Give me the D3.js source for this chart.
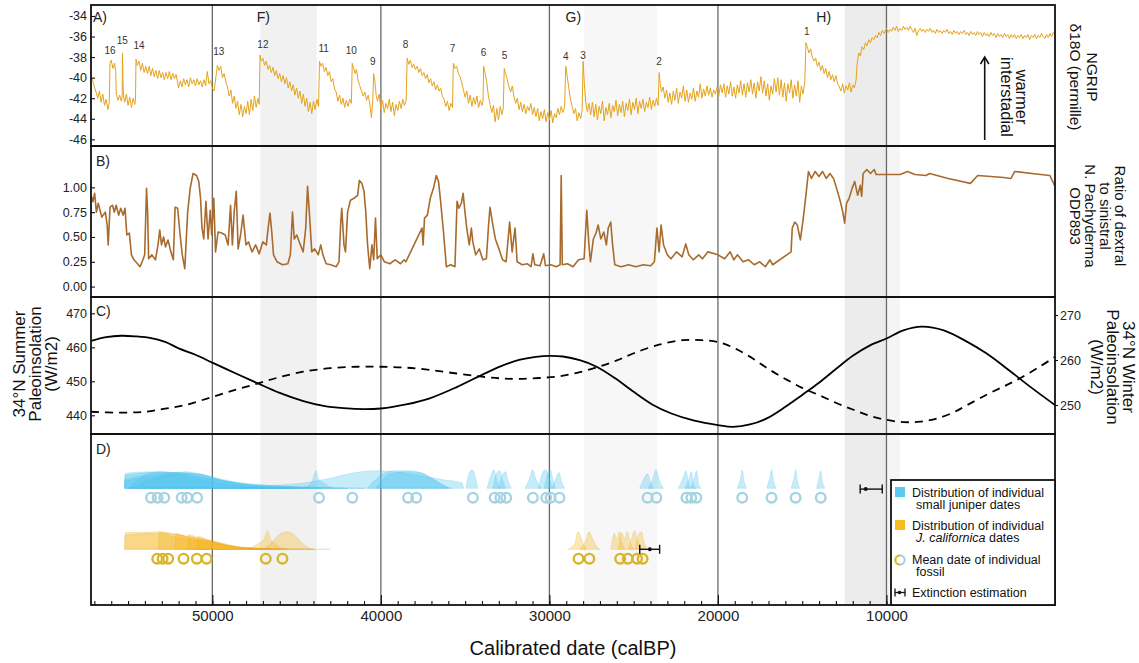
<!DOCTYPE html>
<html>
<head>
<meta charset="utf-8">
<script src="https://cdn.jsdelivr.net/npm/d3@7/dist/d3.min.js"></script>
<style>
html,body{margin:0;padding:0;background:#fff;}
svg{display:block;}
text{font-family:"Liberation Sans",Arial,Helvetica,sans-serif;}
</style>
</head>
<body>
<svg id="chart" width="1139" height="663"></svg>
<script>
// ================= DATA =================
// NGRIP d18O (permille) vs calibrated age (calBP)
const ngrip = [
[57200,-39.8],[57100,-40.3],[57000,-40.9],[56900,-41.4],[56800,-42.0],[56700,-41.3],[56600,-42.4],[56500,-41.6],[56400,-42.7],[56300,-42.1],[56200,-43.1],[56120,-42.5],
[56070,-38.6],[56000,-38.3],[55900,-39.1],[55800,-38.6],[55730,-39.4],[55700,-41.6],[55600,-42.2],[55500,-41.7],[55400,-42.3],[55350,-41.8],
[55330,-37.6],[55300,-40.5],[55260,-41.9],[55200,-42.4],[55100,-41.6],[55000,-42.7],[54900,-41.9],[54800,-42.9],[54700,-42.0],[54600,-42.6],[54560,-42.1],
[54530,-38.2],[54450,-38.8],[54350,-38.4],[54250,-39.3],[54150,-38.6],[54050,-39.5],[53950,-38.9],[53850,-39.6],[53750,-38.9],[53650,-39.8],[53550,-39.1],[53450,-39.9],[53350,-39.3],[53250,-40.1],[53150,-39.3],[53050,-40.0],[52950,-39.5],[52850,-40.2],[52750,-39.5],[52650,-40.1],[52550,-39.4],[52450,-40.2],[52350,-39.6],[52250,-40.1],[52150,-39.7],[52080,-40.3],
[52000,-41.0],[51900,-40.3],[51800,-40.9],[51700,-40.1],[51600,-40.7],[51500,-40.2],[51400,-40.9],[51300,-40.0],[51200,-40.6],[51100,-40.2],[51000,-40.8],[50900,-40.1],[50800,-40.7],[50700,-40.3],[50600,-40.9],[50500,-40.2],[50400,-40.8],[50300,-39.4],[50200,-40.6],[50100,-40.3],[50000,-41.0],[49900,-41.3],
[49800,-40.1],[49700,-38.8],[49600,-39.3],[49500,-38.9],[49400,-40.0],[49300,-39.6],[49200,-40.4],[49100,-40.9],[49000,-41.8],[48900,-41.2],[48800,-42.5],[48700,-41.8],[48600,-43.0],[48500,-42.3],[48400,-43.6],[48300,-42.6],[48200,-43.8],[48100,-42.8],[48000,-43.5],[47900,-42.3],[47800,-43.6],[47700,-42.1],[47600,-43.2],[47500,-41.8],[47400,-42.9],[47300,-42.0],[47220,-42.6],
[47170,-37.8],[47100,-38.4],[47000,-38.1],[46900,-38.8],[46800,-38.4],[46700,-39.2],[46600,-38.8],[46500,-39.5],[46400,-39.0],[46300,-39.8],[46200,-39.3],[46100,-40.1],[46000,-39.6],[45900,-40.4],[45800,-39.8],[45700,-40.6],[45600,-40.0],[45500,-41.0],[45400,-40.4],[45300,-41.3],[45200,-40.7],[45100,-41.7],[45000,-41.0],[44900,-42.0],[44800,-41.3],[44700,-42.5],[44600,-41.6],[44500,-42.8],[44400,-42.0],[44300,-43.3],[44200,-42.4],[44100,-43.5],[44000,-42.3],[43900,-43.1],[43800,-42.1],[43700,-42.8],
[43640,-38.4],[43550,-38.9],[43450,-38.6],[43350,-39.4],[43250,-39.0],[43150,-39.8],[43050,-39.4],[42950,-40.4],[42850,-40.1],[42750,-41.1],[42650,-41.4],[42550,-42.3],[42450,-41.7],[42350,-42.6],[42250,-42.0],[42150,-42.9],[42050,-42.2],[41950,-42.8],[41850,-42.1],[41750,-42.5],
[41700,-38.6],[41620,-39.1],[41530,-39.6],[41450,-39.2],[41350,-40.3],[41250,-40.8],[41150,-41.3],[41050,-41.8],[40950,-41.4],[40850,-42.2],[40750,-41.7],[40650,-42.6],[40560,-43.9],[40480,-42.2],
[40430,-39.6],[40360,-40.3],[40280,-41.7],[40200,-42.3],[40100,-41.6],[40000,-43.1],[39900,-42.2],[39800,-43.4],[39700,-42.5],[39600,-43.0],[39500,-42.1],[39400,-43.3],[39300,-42.4],[39200,-43.7],[39100,-42.6],[39000,-43.2],[38900,-42.3],[38800,-43.0],[38700,-42.1],[38600,-42.7],[38500,-42.2],
[38440,-38.1],[38350,-38.7],[38250,-38.3],[38150,-39.0],[38050,-38.7],[37950,-39.2],[37850,-38.9],[37750,-39.5],[37650,-39.1],[37550,-39.8],[37450,-39.5],[37350,-40.1],[37250,-39.7],[37150,-40.5],[37050,-40.1],[36950,-40.8],[36850,-40.4],[36750,-41.2],[36650,-40.7],[36550,-41.3],[36450,-41.0],[36350,-41.8],[36250,-42.1],[36150,-42.8],[36050,-42.3],[35950,-43.2],[35850,-42.5],[35750,-42.9],
[35700,-38.6],[35600,-39.1],[35500,-38.9],[35400,-39.6],[35300,-39.9],[35200,-40.5],[35100,-41.2],[35000,-41.9],[34900,-41.3],[34800,-42.5],[34700,-41.7],[34600,-42.8],[34500,-41.9],[34400,-42.6],[34300,-41.8],[34200,-42.9],[34100,-42.2],[34000,-42.7],[33940,-42.3],
[33900,-38.9],[33820,-39.5],[33720,-40.4],[33620,-41.8],[33520,-42.6],[33420,-43.4],[33320,-42.7],[33220,-44.3],[33120,-43.0],[33020,-44.1],[32920,-42.8],[32820,-43.6],[32740,-43.0],
[32680,-39.1],[32600,-39.6],[32500,-40.2],[32400,-40.9],[32300,-41.4],[32200,-40.8],[32100,-41.9],[32000,-42.5],[31900,-42.0],[31800,-43.1],[31700,-42.4],[31600,-43.3],[31500,-42.6],[31400,-43.5],[31300,-42.8],[31200,-43.2],[31100,-42.5],[31000,-43.6],[30900,-42.9],[30800,-43.8],[30700,-43.0],[30600,-44.2],[30500,-43.3],[30400,-44.0],[30300,-43.1],[30200,-44.3],[30100,-43.4],[30000,-44.1],[29900,-43.2],[29800,-44.4],[29700,-43.5],[29600,-43.9],[29500,-43.0],[29400,-43.6],[29300,-42.8],[29200,-43.4],[29100,-42.9],
[29030,-38.9],[28950,-39.8],[28850,-41.0],[28750,-42.1],[28650,-42.8],[28550,-43.5],[28450,-43.0],[28350,-44.2],[28250,-43.4],[28150,-44.0],[28060,-43.2],
[28000,-38.4],[27930,-40.5],[27850,-42.3],[27750,-43.3],[27650,-42.5],[27550,-43.6],[27450,-42.4],[27350,-43.8],[27250,-42.6],[27150,-44.1],[27050,-42.8],[26950,-43.5],[26850,-42.3],[26750,-44.2],[26650,-42.9],[26550,-43.6],[26450,-42.5],[26350,-43.9],[26250,-42.7],[26150,-43.3],[26050,-42.2],[25950,-43.7],[25850,-42.6],[25750,-43.4],[25650,-42.3],[25550,-43.8],[25450,-42.5],[25350,-43.2],[25250,-42.1],[25150,-43.6],[25050,-42.4],[24950,-43.1],[24850,-42.0],[24750,-43.5],[24650,-42.3],[24550,-43.0],[24450,-42.1],[24350,-43.3],[24250,-42.4],[24150,-42.9],[24050,-41.9],[23950,-43.1],[23850,-42.2],[23750,-42.8],[23650,-42.0],[23550,-42.7],
[23490,-39.5],[23420,-40.6],[23350,-41.4],[23250,-40.9],[23150,-42.0],[23050,-41.2],[22950,-42.4],[22850,-41.5],[22750,-42.6],[22650,-41.3],[22550,-42.2],[22450,-41.0],[22350,-42.5],[22250,-41.4],[22150,-42.0],[22050,-40.8],[21950,-42.3],[21850,-41.2],[21750,-42.4],[21650,-41.5],[21550,-42.1],[21450,-41.0],[21350,-42.3],[21250,-41.3],[21150,-41.9],[21050,-40.6],[20950,-42.0],[20850,-41.1],[20750,-41.8],[20650,-40.8],[20550,-41.7],[20450,-41.0],[20350,-41.9],[20250,-41.2],[20150,-41.6],[20050,-40.9],
[19950,-41.8],[19850,-40.7],[19750,-41.5],[19650,-40.6],[19550,-41.9],[19450,-40.8],[19350,-41.6],[19250,-40.4],[19150,-41.8],[19050,-40.9],[18950,-42.0],[18850,-40.7],[18750,-41.5],[18650,-40.3],[18550,-41.7],[18450,-40.6],[18350,-41.9],[18250,-40.5],[18150,-41.4],[18050,-40.2],[17950,-41.6],[17850,-40.5],[17750,-42.0],[17650,-40.4],[17550,-41.3],[17450,-39.9],[17350,-41.5],[17250,-40.3],[17150,-41.8],[17050,-40.6],[16950,-42.2],[16850,-40.8],[16750,-41.6],[16650,-40.1],[16550,-41.4],[16450,-40.0],[16350,-41.7],[16250,-40.2],[16150,-41.9],[16050,-40.5],[15950,-42.3],[15850,-40.6],[15750,-41.5],[15650,-40.2],[15550,-42.0],[15450,-40.7],[15350,-41.8],[15250,-40.3],[15150,-42.4],[15050,-40.8],[14950,-41.6],[14850,-40.5],
[14780,-36.6],[14700,-37.0],[14600,-37.6],[14500,-37.2],[14400,-38.0],[14300,-38.4],[14200,-38.1],[14100,-38.9],[14000,-38.5],[13900,-39.3],[13800,-38.8],[13700,-39.6],[13600,-39.1],[13500,-40.0],[13400,-39.4],[13300,-40.2],[13200,-39.7],[13100,-40.4],[13000,-39.8],[12900,-40.6],[12800,-40.9],[12700,-41.3],[12600,-40.6],[12500,-41.5],[12400,-40.8],[12300,-41.2],[12200,-40.5],[12100,-41.4],[12000,-40.7],[11900,-41.0],[11800,-40.2],
[11750,-38.8],[11650,-37.6],[11550,-37.9],[11450,-37.0],[11350,-37.3],[11250,-36.6],[11150,-36.9],[11050,-36.3],[10950,-36.6],[10850,-36.1],[10750,-36.3],[10650,-35.9],[10550,-36.1],[10450,-35.6],[10350,-35.9],[10250,-35.4],[10150,-35.7],
[10000,-35.2],[9900,-35.6],[9800,-35.3],[9700,-35.5],[9600,-35.1],[9500,-35.4],[9400,-35.0],[9300,-35.5],[9200,-35.2],[9100,-35.4],[9000,-35.0],[8900,-35.3],[8800,-35.1],[8700,-35.4],[8600,-35.0],[8500,-35.3],[8400,-35.6],[8300,-35.2],[8200,-35.9],[8100,-35.4],[8000,-35.2],[7900,-35.5],[7800,-35.3],[7700,-35.6],[7600,-35.3],[7500,-35.5],[7400,-35.2],[7300,-35.6],[7200,-35.4],[7100,-35.7],[7000,-35.3],[6900,-35.6],[6800,-35.4],[6700,-35.7],[6600,-35.4],[6500,-35.6],[6400,-35.3],[6300,-35.7],[6200,-35.5],[6100,-35.8],[6000,-35.4],[5900,-35.7],[5800,-35.5],[5700,-35.8],[5600,-35.5],[5500,-35.7],[5400,-35.4],[5300,-35.8],[5200,-35.6],[5100,-35.9],[5000,-35.5],[4900,-35.8],[4800,-35.6],[4700,-35.9],[4600,-35.5],[4500,-35.8],[4400,-35.6],[4300,-36.0],[4200,-35.6],[4100,-35.9],[4000,-35.7],[3900,-36.0],[3800,-35.6],[3700,-35.9],[3600,-35.7],[3500,-36.1],[3400,-35.7],[3300,-36.0],[3200,-35.8],[3100,-36.1],[3000,-35.7],[2900,-36.0],[2800,-35.8],[2700,-36.2],[2600,-35.8],[2500,-36.1],[2400,-35.8],[2300,-36.2],[2200,-35.9],[2100,-36.1],[2000,-35.8],[1900,-36.2],[1800,-35.9],[1700,-36.1],[1600,-35.8],[1500,-36.3],[1400,-35.9],[1300,-36.1],[1200,-35.8],[1100,-36.2],[1000,-35.9],[900,-36.1],[800,-35.7],[700,-36.0],[600,-36.2],[500,-35.8],[400,-36.1],[300,-35.7],[200,-36.0],[100,-35.6],[0,-35.8]
];

// Ratio of dextral to sinistral N. pachyderma, ODP893
const ratioODP893 = [
[57197,0.92],[57090,0.855],[56985,0.94],[56880,0.75],[56770,0.84],[56560,0.70],[56350,0.75],[56240,0.62],[56180,0.42],[56070,0.80],[55920,0.82],[55820,0.75],[55710,0.82],[55560,0.72],[55435,0.79],[55290,0.72],[55180,0.79],[55075,0.52],[54925,0.54],[54800,0.32],[54650,0.27],[54440,0.23],[54290,0.20],[54120,0.27],[54015,0.32],[53905,0.99],[53840,0.75],[53780,0.28],[53590,0.32],[53375,0.27],[53225,0.42],[53120,0.57],[53015,0.42],[52890,0.50],[52780,0.40],[52630,0.47],[52460,0.35],[52315,0.27],[52210,0.80],[52060,0.79],[51930,0.55],[51785,0.32],[51635,0.18],[51465,0.75],[51315,0.99],[51145,1.14],[50935,1.12],[50805,1.06],[50700,0.89],[50615,0.59],[50510,0.48],[50380,0.86],[50255,0.48],[50125,0.77],[50040,0.52],[49915,0.89],[49810,0.35],[49660,0.55],[49450,0.54],[49235,0.52],[49065,0.42],[48920,0.82],[48810,0.42],[48705,0.75],[48580,0.96],[48470,0.38],[48325,0.52],[48175,0.72],[48005,0.42],[47855,0.45],[47645,0.35],[47430,0.42],[47220,0.33],[47005,0.45],[46795,0.42],[46690,0.59],[46580,0.74],[46475,0.55],[46370,0.32],[46160,0.25],[45840,0.22],[45520,0.23],[45370,0.32],[45245,0.75],[45140,0.48],[44990,0.52],[44775,0.42],[44610,0.35],[44460,0.59],[44350,1.01],[44245,0.75],[44100,0.35],[43930,0.38],[43715,0.32],[43570,0.42],[43440,0.32],[43250,0.23],[42975,0.22],[42655,0.20],[42485,0.25],[42380,0.65],[42320,0.79],[42190,0.42],[42100,0.35],[41975,0.75],[41805,0.87],[41595,0.89],[41380,0.92],[41275,1.07],[41125,1.04],[41000,0.96],[40895,0.75],[40790,0.42],[40660,0.18],[40530,0.42],[40425,0.27],[40320,0.69],[40215,0.28],[40000,0.32],[39790,0.25],[39470,0.23],[39150,0.27],[38835,0.23],[38620,0.27],[38515,0.25],[37560,0.59],[37495,0.42],[37410,0.69],[37240,0.72],[37070,0.89],[36880,0.99],[36710,1.12],[36580,1.06],[36455,0.86],[36285,0.55],[36115,0.20],[35860,0.22],[35605,0.20],[35480,0.86],[35370,0.79],[35225,0.84],[35120,0.94],[35010,0.75],[34905,0.59],[34755,0.42],[34630,0.59],[34545,0.45],[34375,0.32],[34160,0.38],[33950,0.27],[33740,0.28],[33610,0.62],[33525,0.80],[33355,0.62],[33205,0.48],[32995,0.38],[32780,0.27],[32570,0.25],[32360,0.65],[32210,0.35],[32040,0.59],[31915,0.25],[31615,0.22],[31300,0.23],[31090,0.20],[30980,0.33],[30870,0.22],[30555,0.21],[30340,0.33],[30235,0.21],[29915,0.22],[29600,0.20],
[29365,0.22],[29300,1.12],[29235,0.22],[28925,0.23],[28600,0.20],[28270,0.27],[27940,0.28],[27785,0.77],[27655,0.42],[27565,0.25],[27390,0.48],[27235,0.54],[27105,0.62],[26950,0.48],[26775,0.55],[26620,0.42],[26510,0.59],[26360,0.65],[26250,0.42],[26120,0.22],[25745,0.20],[25305,0.22],[24870,0.20],[24430,0.22],[23990,0.21],[23770,0.25],[23620,0.59],[23490,0.35],[23375,0.62],[23225,0.42],[23005,0.32],[22785,0.28],[22455,0.35],[22125,0.30],[21910,0.43],[21730,0.32],[21470,0.27],[21140,0.32],[20920,0.28],[20590,0.35],[20000,0.32],[19605,0.28],[19275,0.35],[19055,0.27],[18840,0.32],[18510,0.25],[18180,0.27],[17850,0.22],[17520,0.25],[17190,0.20],[16910,0.27],[16755,0.22],[15660,0.35],[15590,0.59],[15440,0.65],[15290,0.62],[15110,0.47],[14935,0.69],[14780,0.92],[14630,1.16],[14450,1.09],[14230,1.16],[14010,1.11],[13795,1.16],[13575,1.09],[13355,1.14],[13140,1.09],[12960,0.99],[12740,0.86],[12590,0.75],[12480,0.64],[12370,0.84],[12215,0.89],[12040,0.99],[11885,1.06],[11710,0.92],[11555,1.02],[11470,0.91],[11385,1.14],[11165,1.18],[10945,1.14],[10725,1.18],[10615,1.13],[9190,1.13],[8750,1.16],[8310,1.13],[7655,1.12],[7435,1.14],[6340,1.09],[5020,1.04],[4585,1.12],[3050,1.10],[2610,1.09],[2390,1.16],[855,1.13],[305,1.12],[0,1.01]
];

// 34°N summer insolation (W/m2), left axis
const summerInsolation = [
[57200,461.9],[56300,463.0],[55400,463.4],[54500,463.2],[53700,462.8],[52800,461.6],[52000,459.7],[51000,457.8],[50000,455.5],[48600,452.3],[47300,449.4],[46000,446.6],[44600,444.2],[43400,442.8],[42200,442.1],[41000,441.8],[40000,442.0],[38500,443.2],[37100,445.0],[35500,448.3],[34000,451.9],[32900,454.4],[31800,456.3],[30800,457.2],[30000,457.5],[29200,457.3],[28200,456.2],[27200,454.3],[26100,450.9],[25000,446.9],[23900,443.2],[22800,440.6],[21400,438.4],[20000,437.1],[19100,436.6],[18100,437.3],[17100,439.1],[16000,442.5],[15000,446.0],[14000,449.6],[13000,453.6],[12000,457.5],[11000,460.5],[10000,462.6],[9000,465.0],[7900,466.1],[6600,465.0],[5200,461.6],[4100,458.3],[3000,454.3],[1500,448.5],[0,443.0]
];
// 34°N winter insolation (W/m2), right axis
const winterInsolation = [
[57200,248.5],[55500,248.3],[54000,248.5],[52800,249.2],[51600,250.0],[50000,251.8],[48600,253.4],[47300,254.8],[46000,256.2],[44600,257.4],[43000,258.2],[41400,258.5],[40000,258.5],[38500,258.3],[37100,257.8],[35500,257.0],[34000,256.3],[32800,255.9],[31800,255.8],[30600,256.0],[29400,256.4],[28200,257.3],[27000,258.6],[26000,259.9],[25000,261.5],[23500,263.4],[22100,264.4],[21000,264.4],[20000,264.0],[19000,262.6],[18000,260.5],[17000,258.0],[16000,255.8],[15000,253.8],[14000,252.2],[13000,250.5],[12000,249.0],[11000,247.6],[10000,246.7],[9000,246.2],[8000,246.3],[7000,247.0],[6000,248.4],[5200,250.0],[4000,252.4],[3000,254.2],[2100,255.9],[1000,258.3],[0,260.7]
];

// Small juniper fossils: mean dates and calibrated date distributions ([age, relative density])
const juniperMeans = [53640,53250,52850,51820,51490,50900,43670,41690,38390,37900,34540,33250,32910,32560,30980,30190,29930,29400,24180,23650,21870,21580,21280,18560,16820,15390,13900];
const juniperDists = [
[[55200,0],[55180,0.8],[54200,0.88],[53000,0.9],[51800,0.75],[50000,0.5],[48000,0.25],[46000,0.12],[43500,0.05],[41000,0]],
[[55200,0],[55180,0.7],[53500,0.85],[52000,0.85],[50500,0.6],[48500,0.3],[46500,0.15],[44000,0.05],[42000,0]],
[[55000,0],[54200,0.6],[53200,0.9],[52000,0.8],[50800,0.5],[49000,0.2],[46500,0.05],[45000,0]],
[[55200,0],[55180,0.5],[53000,0.8],[51800,0.85],[50500,0.7],[48800,0.3],[47000,0.1],[44500,0]],
[[54800,0],[53200,0.6],[51600,0.9],[50600,0.75],[49200,0.35],[47500,0.1],[45500,0]],
[[55200,0],[55180,0.4],[52500,0.7],[51000,0.8],[49500,0.5],[47800,0.2],[45800,0.08],[43500,0]],
[[44600,0],[44100,0.35],[43850,0.95],[43700,0.5],[43400,0.3],[43000,0.05],[42800,0]],
[[48500,0],[46500,0.15],[44500,0.3],[43000,0.55],[41500,0.85],[40200,0.95],[38800,0.85],[37500,0.65],[36200,0.45],[35200,0.3],[35100,0]],
[[40800,0],[40000,0.7],[39200,0.95],[38300,0.95],[37500,0.8],[36800,0.45],[36000,0]],
[[40300,0],[39500,0.75],[38600,0.9],[37700,0.85],[37000,0.55],[36300,0.15],[35800,0]],
[[34950,0],[34750,0.85],[34600,1.0],[34450,0.8],[34250,0]],
[[33700,0],[33450,0.75],[33300,1.0],[33150,0.55],[32950,0]],
[[33350,0],[33100,0.85],[32950,0.95],[32800,0.5],[32600,0]],
[[33000,0],[32750,0.8],[32600,0.9],[32450,0.4],[32250,0]],
[[31450,0],[31150,0.6],[31000,1.0],[30800,0.5],[30500,0]],
[[30650,0],[30400,0.85],[30250,1.0],[30050,0.7],[29850,0]],
[[30300,0],[30100,0.8],[29950,1.0],[29800,0.5],[29650,0]],
[[29850,0],[29600,0.55],[29420,0.85],[29280,0.35],[29100,0]],
[[24650,0],[24350,0.6],[24180,0.8],[24000,0.35],[23850,0]],
[[24150,0],[23850,0.55],[23680,1.0],[23480,0.45],[23250,0]],
[[22350,0],[22050,0.6],[21900,0.95],[21750,0.3],[21600,0]],
[[21950,0],[21700,0.55],[21580,0.9],[21450,0.2],[21300,0]],
[[21600,0],[21400,0.6],[21270,0.95],[21150,0.25],[21000,0]],
[[18850,0],[18650,0.6],[18560,1.0],[18450,0.4],[18300,0]],
[[17100,0],[16920,0.6],[16820,1.0],[16700,0.4],[16550,0]],
[[15650,0],[15480,0.6],[15390,1.0],[15280,0.4],[15150,0]],
[[14150,0],[14000,0.55],[13900,0.95],[13800,0.35],[13650,0]]
];

// J. californica fossils
const californicaMeans = [53270,52950,52620,51710,50920,50340,46830,45840,28270,27630,25800,25350,24800,24470];
const californicaDists = [
[[55200,0],[55180,0.9],[54000,0.92],[53200,0.95],[52000,0.8],[50800,0.6],[49500,0.35],[48300,0.12],[46500,0.04],[43000,0]],
[[55200,0],[55180,0.75],[53800,0.85],[52600,0.85],[51300,0.65],[50000,0.45],[48800,0.15],[46000,0.03],[44000,0]],
[[53200,0],[53150,0.95],[52400,0.7],[51200,0.5],[49800,0.3],[48200,0.08],[46000,0]],
[[52200,0],[52150,0.85],[51400,0.6],[50200,0.4],[48800,0.15],[47000,0]],
[[51450,0],[51400,0.8],[50700,0.55],[49600,0.3],[48400,0.1],[46500,0]],
[[50900,0],[50850,0.7],[50200,0.5],[49200,0.25],[48000,0.06],[45500,0]],
[[47900,0],[47300,0.3],[46900,0.6],[46720,1.0],[46550,0.55],[46200,0.25],[45700,0]],
[[46900,0],[46400,0.45],[45950,0.85],[45550,0.95],[45100,0.75],[44700,0.35],[44200,0.05],[43900,0]],
[[28900,0],[28500,0.3],[28300,0.95],[28150,0.7],[27950,0.2],[27800,0]],
[[28200,0],[27850,0.45],[27650,0.95],[27450,0.6],[27200,0.15],[27000,0]],
[[26350,0],[26150,0.85],[26000,0.55],[25850,0.95],[25700,0.35],[25500,0]],
[[25900,0],[25700,0.9],[25550,0.55],[25380,0.95],[25200,0.35],[25000,0]],
[[25300,0],[25100,0.65],[24950,1.0],[24800,0.6],[24650,0.2],[24450,0]],
[[24900,0],[24700,0.8],[24550,0.95],[24400,0.45],[24200,0]]
];

// Extinction estimations [older bound, estimate, younger bound]
const extinctionJuniper = [11560, 11230, 10250];
const extinctionCalifornica = [24640, 24040, 23460];

// Shaded intervals [from, to] (calBP)
const shadedPeriods = [[47150,43800],[27950,23600],[12480,10000],[10000,9190]];
const periodLabels = [["F)",47370],["G)",29040],["H)",14160]];

// Dansgaard-Oeschger interstadial numbers [label, age, d18O]
const doLabels = [["16",56070,-37.4],["15",55340,-36.4],["14",54350,-36.9],["13",49620,-37.5],["12",47000,-36.8],["11",43390,-37.2],["10",41750,-37.4],["9",40480,-38.4],["8",38530,-36.8],["7",35750,-37.2],["6",33910,-37.6],["5",32660,-37.8],["4",29030,-37.9],["3",28000,-37.8],["2",23490,-38.4],["1",14730,-35.5]];

// Tick values
const ageTicks = [50000,40000,30000,20000,10000];
const d18oTicks = [-34,-36,-38,-40,-42,-44,-46];
const ratioTicks = [0,0.25,0.5,0.75,1];
const summerTicks = [440,450,460,470];
const winterTicks = [250,260,270];

// ================= CHART =================
const svg = d3.select("#chart");
const L = 91, R = 1055;
const panels = {A:[5,146], B:[146,297], C:[297,434], D:[434,605]};
const font = '"Liberation Sans",Arial,sans-serif';

const x = d3.scaleLinear().domain([57200,0]).range([L,R]);
const yA = d3.scaleLinear().domain([-46.65,-32.93]).range([146,5]);
const yB = d3.scaleLinear().domain([-0.105,1.417]).range([297,146]);
const yCL = d3.scaleLinear().domain([434.5,474.8]).range([434,297]);
const yCR = d3.scaleLinear().domain([243.56,274.0]).range([434,297]);
const rowY = d3.scalePoint().domain(["juniper","californica"]).range([488.3,549.3]);
const hD = d3.scaleLinear().domain([0,1]).range([0,18.5]);

const defs = svg.append("defs");
Object.entries(panels).forEach(([k,[t,b]]) => {
  defs.append("clipPath").attr("id","clip"+k).append("rect")
    .attr("x",L).attr("y",t).attr("width",R-L).attr("height",b-t);
});

// shading
const shadeColors = ["#f1f1f1","#f7f7f7","#ececec","#f5f5f5"];
svg.append("g").selectAll("rect").data(shadedPeriods).join("rect")
  .attr("x",d=>x(d[0])).attr("width",d=>x(d[1])-x(d[0]))
  .attr("y",panels.A[0]).attr("height",panels.D[1]-panels.A[0])
  .attr("fill",(d,i)=>shadeColors[i]);

// gridlines
svg.append("g").selectAll("line").data(ageTicks).join("line")
  .attr("x1",d=>x(d)).attr("x2",d=>x(d))
  .attr("y1",panels.A[0]).attr("y2",panels.D[1])
  .attr("stroke","#6a6a6a").attr("stroke-width",1.3);

// Panel A: NGRIP
svg.append("path").datum(ngrip).attr("clip-path","url(#clipA)")
  .attr("fill","none").attr("stroke","#e5a31c").attr("stroke-width",1)
  .attr("stroke-linejoin","round")
  .attr("d",d3.line().x(d=>x(d[0])).y(d=>yA(d[1])));

svg.append("g").selectAll("text").data(doLabels).join("text")
  .attr("x",d=>x(d[1])).attr("y",d=>yA(d[2]))
  .attr("text-anchor","middle").attr("dominant-baseline","central")
  .attr("font-size",10).attr("fill","#333").text(d=>d[0]);

// Panel B
svg.append("path").datum(ratioODP893).attr("clip-path","url(#clipB)")
  .attr("fill","none").attr("stroke","#a86b2d").attr("stroke-width",1.6)
  .attr("stroke-linejoin","round")
  .attr("d",d3.line().x(d=>x(d[0])).y(d=>yB(d[1])));

// Panel C
const gC = svg.append("g").attr("clip-path","url(#clipC)");
gC.append("path").datum(summerInsolation)
  .attr("fill","none").attr("stroke","#000").attr("stroke-width",1.8)
  .attr("d",d3.line().x(d=>x(d[0])).y(d=>yCL(d[1])).curve(d3.curveCatmullRom));
gC.append("path").datum(winterInsolation)
  .attr("fill","none").attr("stroke","#000").attr("stroke-width",1.8)
  .attr("stroke-dasharray","8,6")
  .attr("d",d3.line().x(d=>x(d[0])).y(d=>yCR(d[1])).curve(d3.curveCatmullRom));

// Panel D
const gD = svg.append("g").attr("clip-path","url(#clipD)");
function drawDists(dists, row, fill, stroke){
  const base = rowY(row);
  const area = d3.area().x(d=>x(d[0])).y0(base).y1(d=>base-hD(d[1])).curve(d3.curveMonotoneX);
  gD.append("g").selectAll("path").data(dists).join("path")
    .attr("d",area).attr("fill",fill).attr("fill-opacity",0.32)
    .attr("stroke",stroke).attr("stroke-opacity",0.35).attr("stroke-width",0.6);
}
drawDists(juniperDists,"juniper","#4fc4ef","#3bb8e8");
drawDists(californicaDists,"californica","#f5b51e","#e0a010");

gD.append("g").selectAll("circle").data(juniperMeans).join("circle")
  .attr("cx",d=>x(d)).attr("cy",rowY("juniper")+9.4).attr("r",4.8)
  .attr("fill","none").attr("stroke","#a6d3e2").attr("stroke-width",2.4);
gD.append("g").selectAll("circle").data(californicaMeans).join("circle")
  .attr("cx",d=>x(d)).attr("cy",rowY("californica")+9.4).attr("r",4.8)
  .attr("fill","none").attr("stroke","#d8b52c").attr("stroke-width",2.4);

function drawExtinction(ext, y){
  const g = gD.append("g").attr("stroke","#111").attr("stroke-width",1.4);
  g.append("line").attr("x1",x(ext[0])).attr("x2",x(ext[2])).attr("y1",y).attr("y2",y);
  g.append("line").attr("x1",x(ext[0])).attr("x2",x(ext[0])).attr("y1",y-4.5).attr("y2",y+4.5);
  g.append("line").attr("x1",x(ext[2])).attr("x2",x(ext[2])).attr("y1",y-4.5).attr("y2",y+4.5);
  g.append("circle").attr("cx",x(ext[1])).attr("cy",y).attr("r",2).attr("fill","#111").attr("stroke","none");
}
drawExtinction(extinctionJuniper, rowY("juniper")+0.8);
drawExtinction(extinctionCalifornica, rowY("californica"));

// frames
Object.values(panels).forEach(([t,b]) => {
  svg.append("rect").attr("x",L).attr("y",t).attr("width",R-L).attr("height",b-t)
    .attr("fill","none").attr("stroke","#111").attr("stroke-width",1.8);
});

// axes
function styleAxis(g, size){
  g.select(".domain").remove();
  g.selectAll(".tick line").attr("stroke","#111").attr("stroke-width",1.1);
  g.selectAll(".tick text").attr("font-size",size).attr("font-family",font).attr("fill","#222");
}
svg.append("g").attr("transform",`translate(${L},0)`)
  .call(d3.axisLeft(yA).tickValues(d18oTicks).tickSize(-4).tickPadding(4).tickFormat(d=>String(d)))
  .call(g=>styleAxis(g,12.5));
svg.append("g").attr("transform",`translate(${L},0)`)
  .call(d3.axisLeft(yB).tickValues(ratioTicks).tickSize(-4).tickPadding(4).tickFormat(d3.format(".2f")))
  .call(g=>styleAxis(g,12.5));
svg.append("g").attr("transform",`translate(${L},0)`)
  .call(d3.axisLeft(yCL).tickValues(summerTicks).tickSize(-4).tickPadding(4))
  .call(g=>styleAxis(g,12.5));
svg.append("g").attr("transform",`translate(${R},0)`)
  .call(d3.axisRight(yCR).tickValues(winterTicks).tickSize(3).tickPadding(2))
  .call(g=>styleAxis(g,12.5));
svg.append("g").attr("transform",`translate(0,${panels.D[1]})`)
  .call(d3.axisBottom(x).tickValues(d3.range(1000,57001,1000)).tickSize(-4).tickFormat(""))
  .call(g=>styleAxis(g,12));
svg.append("g").attr("transform",`translate(0,${panels.D[1]})`)
  .call(d3.axisBottom(x).tickValues(ageTicks).tickSize(-10).tickPadding(5).tickFormat(d3.format("d")))
  .call(g=>styleAxis(g,15));

// legend
const lg = svg.append("g").attr("font-size",12.5).attr("fill","#111");
lg.append("rect").attr("x",891).attr("y",480).attr("width",R-891).attr("height",panels.D[1]-480)
  .attr("fill","#fff").attr("stroke","#111").attr("stroke-width",1.8);
lg.append("rect").attr("x",895).attr("y",487).attr("width",10).attr("height",10).attr("fill","#5cc9f1");
lg.append("text").attr("x",912).attr("y",496.5).text("Distribution of individual");
lg.append("text").attr("x",916).attr("y",508.5).text("small juniper dates");
lg.append("rect").attr("x",895).attr("y",520).attr("width",10).attr("height",10).attr("fill","#f7bc1e");
lg.append("text").attr("x",912).attr("y",530).text("Distribution of individual");
const t2 = lg.append("text").attr("x",916).attr("y",542);
t2.append("tspan").attr("font-style","italic").text("J. californica");
t2.append("tspan").text(" dates");
lg.append("path").attr("d","M900,555.3 A4.7,4.7 0 0 0 900,564.7").attr("fill","none").attr("stroke","#e2b52a").attr("stroke-width",2.2);
lg.append("path").attr("d","M900,555.3 A4.7,4.7 0 0 1 900,564.7").attr("fill","none").attr("stroke","#a6d3e2").attr("stroke-width",2.2);
lg.append("text").attr("x",912).attr("y",563.5).text("Mean date of individual");
lg.append("text").attr("x",916).attr("y",575.5).text("fossil");
const ls = lg.append("g").attr("stroke","#111").attr("stroke-width",1.3);
ls.append("line").attr("x1",895).attr("x2",905).attr("y1",592.5).attr("y2",592.5);
ls.append("line").attr("x1",895).attr("x2",895).attr("y1",588.5).attr("y2",596.5);
ls.append("line").attr("x1",905).attr("x2",905).attr("y1",588.5).attr("y2",596.5);
lg.append("circle").attr("cx",899.5).attr("cy",592.5).attr("r",1.8).attr("fill","#111");
lg.append("text").attr("x",912).attr("y",597).text("Extinction estimation");

// panel letters
const letters = [["A)",93,22],["B)",96,166],["C)",96,316],["D)",96,454]];
svg.append("g").selectAll("text").data(letters).join("text")
  .attr("x",d=>d[1]).attr("y",d=>d[2]).attr("font-size",14).attr("fill","#222").text(d=>d[0]);
svg.append("g").selectAll("text").data(periodLabels).join("text")
  .attr("x",d=>x(d[1])).attr("y",22).attr("font-size",14).attr("fill","#222").text(d=>d[0]);

// rotated titles
function vtext(lines, xs, cy, rot, size){
  lines.forEach((s,i)=>{
    svg.append("text").attr("transform",`translate(${xs[i]},${cy}) rotate(${rot})`)
      .attr("text-anchor","middle").attr("dominant-baseline","central")
      .attr("font-size",size).attr("fill","#111").text(s);
  });
}
vtext(["NGRIP","δ18O (permille)"],[1092,1075],77,90,15.5);
vtext(["warmer","interstadial"],[1021.5,1006.5],97,90,16.5);
vtext(["Ratio of dextral","to sinistral","N. Pachyderma","ODP893"],[1120,1105,1090,1075],216,90,15);
vtext(["34°N Winter","Paleoinsolation","(W/m2)"],[1128,1112,1096],367,90,17);
vtext(["34°N Summer","Paleoinsolation","(W/m2)"],[19.5,35.5,51],364,-90,17);

// arrow
const ar = svg.append("g").attr("stroke","#111").attr("stroke-width",1.6).attr("fill","none");
ar.append("line").attr("x1",984.7).attr("x2",984.7).attr("y1",140).attr("y2",58);
ar.append("polyline").attr("points","980.5,64 984.7,57 988.9,64");

// x-axis title
svg.append("text").attr("x",(L+R)/2).attr("y",655).attr("text-anchor","middle")
  .attr("font-size",20).attr("fill","#111").text("Calibrated date (calBP)");
</script>
</body>
</html>
